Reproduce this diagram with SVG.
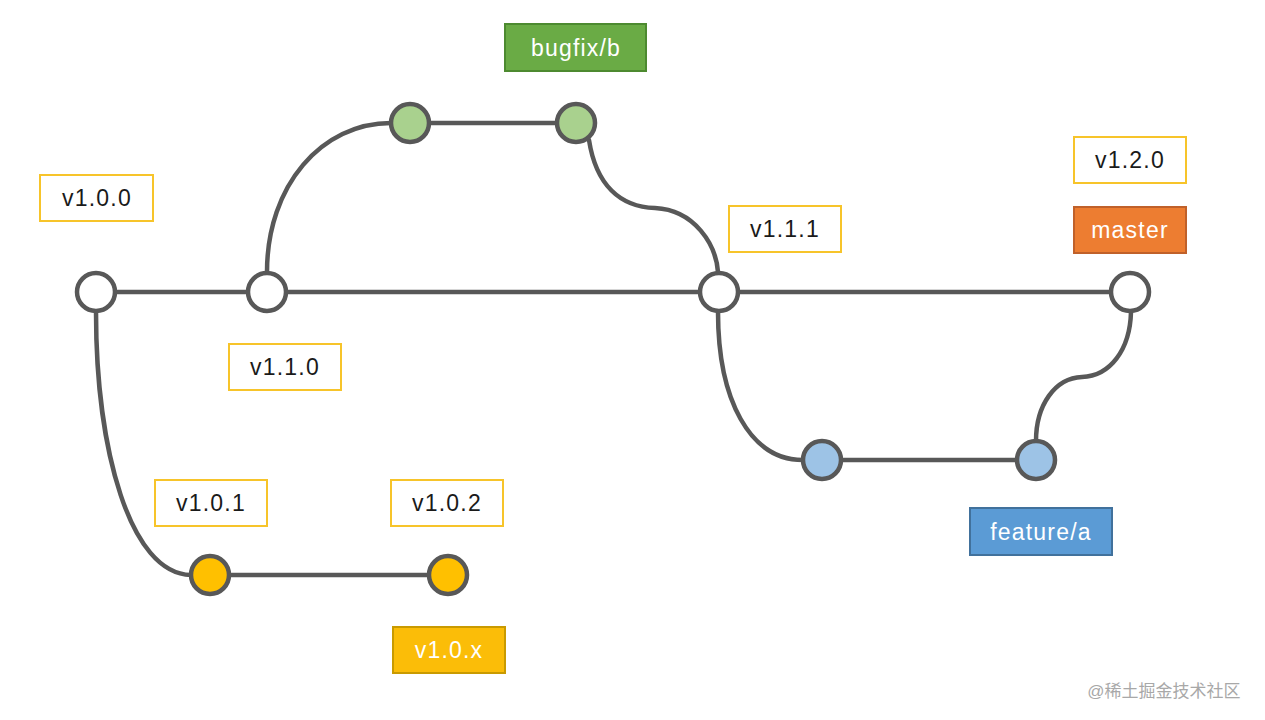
<svg xmlns="http://www.w3.org/2000/svg" width="1265" height="720" viewBox="0 0 1265 720">
<style>
.edge{fill:none;stroke:#585858;stroke-width:4.5;stroke-linecap:round}
.node{stroke:#585858;stroke-width:4.5}
.white{fill:#ffffff}
.green{fill:#a9d18e}
.blue{fill:#9dc3e6}
.yellow{fill:#ffc000}
.tag{fill:#ffffff;stroke:#f7c42a;stroke-width:2}
.t{font-family:"Liberation Sans",Arial,sans-serif;font-size:23px;letter-spacing:1.2px;text-anchor:middle}
.dark{fill:#1a1a1a}
.light{fill:#ffffff}
</style>
<rect width="1265" height="720" fill="#ffffff"/>
<g id="connectors">
<line class="edge" x1="96" y1="292" x2="267" y2="292"/>
<line class="edge" x1="267" y1="292" x2="719" y2="292"/>
<line class="edge" x1="719" y1="292" x2="1130" y2="292"/>
<line class="edge" x1="410" y1="123" x2="576" y2="123"/>
<line class="edge" x1="822" y1="460" x2="1036" y2="460"/>
<line class="edge" x1="210" y1="575" x2="448" y2="575"/>
<path class="edge" d="M267,272 C267,185 322,123 391,123"/>
<path class="edge" d="M589,140 C596,185 620,207 655,208 C695,210 716,245 718,272"/>
<path class="edge" d="M718,312 C718,400 750,460 803,460"/>
<path class="edge" d="M1036,441 C1036,405 1055,378 1082,377 C1110,376 1130,350 1131,312"/>
<path class="edge" d="M96,312 C96,450 130,574 191,575"/>
</g>
<g id="n1"><circle class="node white" cx="96" cy="292" r="19"/></g>
<g id="n2"><circle class="node white" cx="267" cy="292" r="19"/></g>
<g id="n3"><circle class="node white" cx="719" cy="292" r="19"/></g>
<g id="n4"><circle class="node white" cx="1130" cy="292" r="19"/></g>
<g id="g1"><circle class="node green" cx="410" cy="123" r="19"/></g>
<g id="g2"><circle class="node green" cx="576" cy="123" r="19"/></g>
<g id="b1"><circle class="node blue" cx="822" cy="460" r="19"/></g>
<g id="b2"><circle class="node blue" cx="1036" cy="460" r="19"/></g>
<g id="y1"><circle class="node yellow" cx="210" cy="575" r="19"/></g>
<g id="y2"><circle class="node yellow" cx="448" cy="575" r="19"/></g>
<g id="label-bugfix"><rect x="505" y="24" width="141" height="47" fill="#6aab45" stroke="#4d8a30" stroke-width="2"/><text class="t light" x="576" y="56">bugfix/b</text></g>
<g id="label-v100"><rect class="tag" x="40" y="175" width="113" height="46"/><text class="t dark" x="97" y="206">v1.0.0</text></g>
<g id="label-v110"><rect class="tag" x="229" y="344" width="112" height="46"/><text class="t dark" x="285" y="375">v1.1.0</text></g>
<g id="label-v111"><rect class="tag" x="729" y="206" width="112" height="46"/><text class="t dark" x="785" y="237">v1.1.1</text></g>
<g id="label-v120"><rect class="tag" x="1074" y="137" width="112" height="46"/><text class="t dark" x="1130" y="168">v1.2.0</text></g>
<g id="label-master"><rect x="1074" y="207" width="112" height="46" fill="#ed7d31" stroke="#c0612a" stroke-width="2"/><text class="t light" x="1130" y="238">master</text></g>
<g id="label-v101"><rect class="tag" x="155" y="480" width="112" height="46"/><text class="t dark" x="211" y="511">v1.0.1</text></g>
<g id="label-v102"><rect class="tag" x="391" y="480" width="112" height="46"/><text class="t dark" x="447" y="511">v1.0.2</text></g>
<g id="label-v10x"><rect x="393" y="627" width="112" height="46" fill="#fbbd08" stroke="#c99a00" stroke-width="2"/><text class="t light" x="449" y="658">v1.0.x</text></g>
<g id="label-feature"><rect x="970" y="508" width="142" height="47" fill="#5b9bd5" stroke="#41719c" stroke-width="2"/><text class="t light" x="1041" y="540">feature/a</text></g>
<text x="1164" y="697" text-anchor="middle" font-family="'Liberation Sans','Noto Sans CJK SC',sans-serif" font-size="17" fill="#a8a8a8">@稀土掘金技术社区</text>
</svg>
